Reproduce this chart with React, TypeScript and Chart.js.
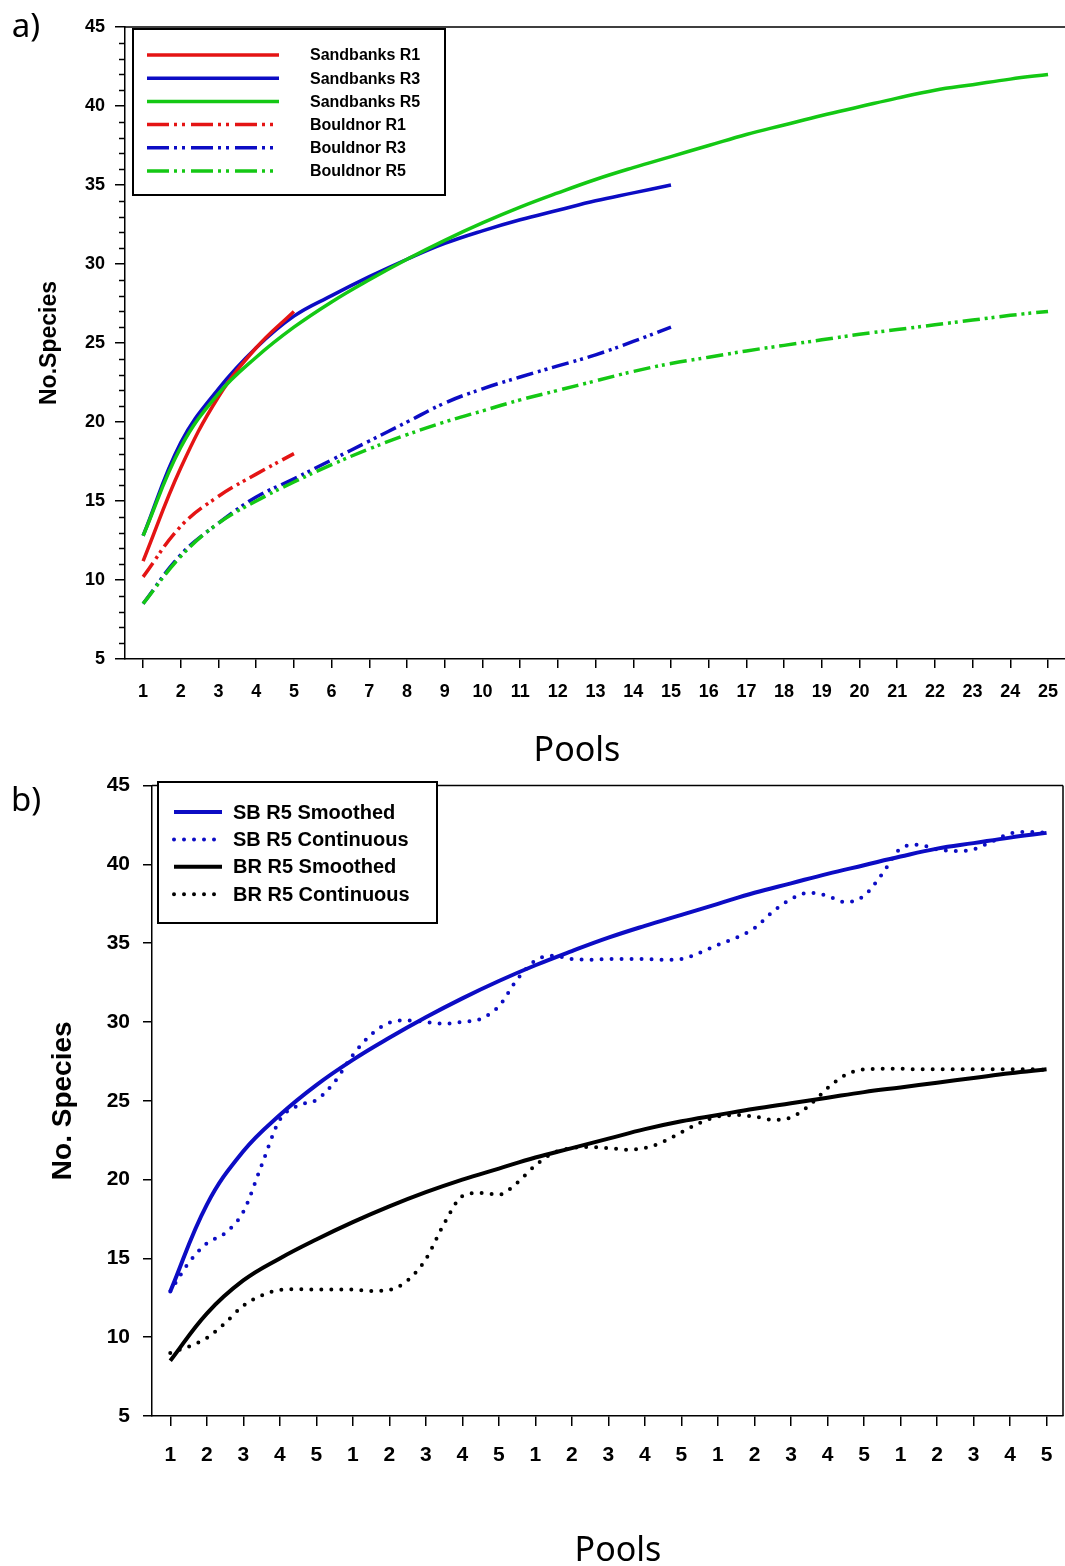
import { useEffect, useRef } from 'react';
import { Chart, registerables } from 'chart.js';

Chart.register(...registerables);

// ---------- Data: panel a ----------
const pools = [1, 2, 3, 4, 5, 6, 7, 8, 9, 10, 11, 12, 13, 14, 15, 16, 17, 18, 19, 20, 21, 22, 23, 24, 25];
const sandbanksR1 = [11.2, 17.1, 21.6, 24.7, 27.0];
const sandbanksR3 = [12.8, 18.7, 22.1, 24.7, 26.7, 28.0, 29.2, 30.3, 31.3, 32.1, 32.8, 33.4, 34.0, 34.5, 35.0];
const sandbanksR5 = [12.8, 18.4, 21.8, 24.1, 26.0, 27.6, 29.0, 30.3, 31.5, 32.6, 33.6, 34.5, 35.35, 36.1, 36.8, 37.5, 38.2, 38.8, 39.4, 39.95, 40.5, 41.0, 41.35, 41.7, 42.0];
const bouldnorR1 = [10.2, 13.4, 15.3, 16.7, 18.0];
const bouldnorR3 = [8.5, 11.6, 13.6, 15.25, 16.4, 17.6, 18.8, 20.0, 21.2, 22.1, 22.85, 23.55, 24.25, 25.1, 26.0];
const bouldnorR5 = [8.5, 11.5, 13.6, 15.0, 16.2, 17.3, 18.3, 19.2, 20.0, 20.7, 21.4, 22.0, 22.6, 23.2, 23.7, 24.1, 24.5, 24.85, 25.2, 25.55, 25.85, 26.15, 26.45, 26.75, 27.0];

// ---------- Data: panel b ----------
const bottomPoolLabels = ['1', '2', '3', '4', '5', '1', '2', '3', '4', '5', '1', '2', '3', '4', '5', '1', '2', '3', '4', '5', '1', '2', '3', '4', '5'];
const sbR5Smoothed = [12.9, 18.4, 21.8, 24.1, 26.0, 27.6, 29.0, 30.3, 31.5, 32.6, 33.6, 34.5, 35.35, 36.1, 36.8, 37.5, 38.2, 38.8, 39.4, 39.95, 40.5, 41.0, 41.35, 41.7, 42.0];
const brR5Smoothed = [8.5, 11.5, 13.6, 15.0, 16.2, 17.3, 18.3, 19.2, 20.0, 20.7, 21.4, 22.0, 22.6, 23.2, 23.7, 24.1, 24.5, 24.85, 25.2, 25.55, 25.85, 26.15, 26.45, 26.75, 27.0];
const continuousPools = [1, 1.5, 2, 2.5, 3, 3.5, 4, 4.5, 5, 5.5, 6, 6.5, 7, 7.5, 8, 8.5, 9, 9.5, 10, 10.5, 11, 11.5, 12, 12.5, 13, 13.5, 14, 14.5, 15, 15.5, 16, 16.5, 17, 17.5, 18, 18.5, 19, 19.5, 20, 20.5, 21, 21.5, 22, 22.5, 23, 23.5, 24, 24.5, 25];
const sbR5Continuous = [12.9, 14.7, 15.95, 16.6, 17.95, 20.9, 23.8, 24.7, 25.05, 26.2, 27.9, 29.2, 29.95, 30.1, 30.0, 29.9, 30.0, 30.2, 31.0, 32.7, 33.9, 34.2, 34.0, 33.95, 34.0, 34.0, 34.0, 33.95, 34.0, 34.4, 34.9, 35.35, 35.95, 37.0, 37.8, 38.2, 38.0, 37.6, 38.0, 39.4, 41.0, 41.25, 40.95, 40.85, 40.95, 41.45, 41.95, 42.06, 42.0];
const brR5Continuous = [9.0, 9.4, 9.95, 10.9, 12.0, 12.65, 13.0, 13.05, 13.03, 13.03, 13.02, 12.93, 13.0, 13.6, 14.95, 17.2, 18.95, 19.15, 19.05, 19.8, 20.9, 21.7, 22.0, 22.07, 22.0, 21.9, 22.0, 22.4, 23.0, 23.6, 24.0, 24.1, 24.0, 23.8, 23.95, 24.7, 25.8, 26.65, 27.0, 27.03, 27.03, 27.0, 27.0, 27.0, 27.0, 27.0, 27.0, 27.0, 26.97];

// ---------- Styles ----------
const RED = '#e41414';
const BLUE = '#0c0cc4';
const GREEN = '#14c814';
const BLACK = '#000000';
const ARIAL = '"Liberation Sans", Arial, Helvetica, sans-serif';
const DASH_PLOT = [17, 5, 3, 4, 3, 5];
const DASH_LEGEND = [22, 5, 3, 5, 3, 6];
const DOTS = [0, 10];

const toXY = (xs: number[], ys: number[]) => ys.map((y, i) => ({ x: xs[i], y }));

const framePlugin = {
  id: 'frame',
  afterDraw(chart: any, _args: any, opts: any) {
    const { ctx, chartArea: a } = chart;
    ctx.save();
    ctx.strokeStyle = '#000';
    ctx.lineWidth = opts.lineWidth || 1.5;
    ctx.beginPath();
    ctx.moveTo(a.left, a.top);
    ctx.lineTo(a.right, a.top);
    if (opts.right) {
      ctx.moveTo(a.right, a.top);
      ctx.lineTo(a.right, a.bottom);
    }
    if (opts.minorTick) {
      const ys = chart.scales.y;
      for (let v = ys.min; v <= ys.max; v += 1) {
        if (v % 5 === 0) continue;
        const py = Math.round(ys.getPixelForValue(v)) + 0.5;
        ctx.moveTo(a.left - opts.minorTick, py);
        ctx.lineTo(a.left, py);
      }
    }
    ctx.stroke();
    ctx.restore();
  },
};

const boxLegendPlugin = {
  id: 'boxLegend',
  afterDraw(chart: any, _args: any, o: any) {
    const { ctx } = chart;
    ctx.save();
    ctx.fillStyle = '#fff';
    ctx.fillRect(o.x1, o.y1, o.x2 - o.x1, o.y2 - o.y1);
    ctx.strokeStyle = '#000';
    ctx.lineWidth = o.borderWidth;
    ctx.strokeRect(o.x1, o.y1, o.x2 - o.x1, o.y2 - o.y1);
    chart.data.datasets.forEach((ds: any, i: number) => {
      const y = o.rowTop + i * o.rowStep;
      ctx.beginPath();
      ctx.setLineDash(ds.legendDash || ds.borderDash || []);
      ctx.lineCap = ds.borderCapStyle || 'butt';
      ctx.lineWidth = ds.borderWidth;
      ctx.strokeStyle = ds.borderColor;
      ctx.moveTo(o.lineX1, y);
      ctx.lineTo(o.lineX2, y);
      ctx.stroke();
      ctx.setLineDash([]);
      ctx.fillStyle = '#000';
      ctx.font = o.font;
      ctx.textBaseline = 'middle';
      ctx.textAlign = 'left';
      ctx.fillText(ds.label, o.textX, y + 1);
    });
    ctx.restore();
  },
};

function lineDs(label: string, xs: number[], ys: number[], color: string, width: number, dash: number[] | null, extra: any = {}) {
  return {
    label,
    data: toXY(xs, ys),
    borderColor: color,
    backgroundColor: color,
    borderWidth: width,
    borderDash: dash || [],
    pointRadius: 0,
    tension: 0.4,
    fill: false,
    ...extra,
  };
}

const noSidePadding = (s: any, h: number) => {
  s.height = h;
  s.paddingLeft = 0;
  s.paddingRight = 0;
};

function configA(): any {
  const H = 720;
  return {
    type: 'line',
    data: {
      datasets: [
        lineDs('Sandbanks R1', pools, sandbanksR1, RED, 3.5, null, { order: 2 }),
        lineDs('Sandbanks R3', pools, sandbanksR3, BLUE, 3.5, null, { order: 3 }),
        lineDs('Sandbanks R5', pools, sandbanksR5, GREEN, 3.5, null, { order: 1 }),
        lineDs('Bouldnor R1', pools, bouldnorR1, RED, 3.5, DASH_PLOT, { legendDash: DASH_LEGEND, order: 2 }),
        lineDs('Bouldnor R3', pools, bouldnorR3, BLUE, 3.5, DASH_PLOT, { legendDash: DASH_LEGEND, order: 3 }),
        lineDs('Bouldnor R5', pools, bouldnorR5, GREEN, 3.5, DASH_PLOT, { legendDash: DASH_LEGEND, order: 1 }),
      ],
    },
    options: {
      responsive: false,
      animation: false,
      layout: { padding: { top: 27, left: 0, right: 0, bottom: 0 } },
      plugins: {
        legend: { display: false },
        tooltip: { enabled: false },
        frame: { right: false, minorTick: 6, lineWidth: 1.5 },
        boxLegend: {
          x1: 133, y1: 29, x2: 445, y2: 195, borderWidth: 2,
          rowTop: 55, rowStep: 23.2, lineX1: 147, lineX2: 279, textX: 310,
          font: `bold 16px ${ARIAL}`,
        },
      },
      scales: {
        x: {
          type: 'linear',
          min: 0.52,
          max: 25.45,
          afterBuildTicks: (s: any) => { s.ticks = pools.map((v) => ({ value: v })); },
          afterFit: (s: any) => noSidePadding(s, H - 659),
          ticks: { color: '#000', font: { family: ARIAL, size: 18, weight: 'bold' }, padding: 13, maxRotation: 0, autoSkip: false, callback: (v: any) => String(v) },
          grid: { drawOnChartArea: false, drawTicks: true, tickLength: 9, color: '#000', lineWidth: 1.5 },
          border: { display: true, color: '#000', width: 1.5 },
        },
        y: {
          type: 'linear',
          min: 5,
          max: 45,
          afterFit: (s: any) => { s.width = 125; },
          ticks: { stepSize: 5, color: '#000', font: { family: ARIAL, size: 18, weight: 'bold' }, padding: 10 },
          grid: { drawOnChartArea: false, drawTicks: true, tickLength: 10, color: '#000', lineWidth: 1.5 },
          border: { display: true, color: '#000', width: 1.5 },
          title: { display: true, text: 'No.Species', color: '#000', font: { family: ARIAL, size: 23, weight: 'bold', lineHeight: 1 }, padding: { top: 38, bottom: 0 } },
        },
      },
    },
    plugins: [framePlugin, boxLegendPlugin],
  };
}

function configB(): any {
  const H = 806;
  const TOP = 760;
  return {
    type: 'line',
    data: {
      datasets: [
        lineDs('SB R5 Smoothed', pools, sbR5Smoothed, BLUE, 4, null, { order: 2 }),
        lineDs('SB R5 Continuous', continuousPools, sbR5Continuous, BLUE, 4, DOTS, { borderCapStyle: 'round', order: 1, tension: 0, cubicInterpolationMode: 'monotone' }),
        lineDs('BR R5 Smoothed', pools, brR5Smoothed, BLACK, 4, null, { order: 2 }),
        lineDs('BR R5 Continuous', continuousPools, brR5Continuous, BLACK, 4, DOTS, { borderCapStyle: 'round', order: 1, tension: 0, cubicInterpolationMode: 'monotone' }),
      ],
    },
    options: {
      responsive: false,
      animation: false,
      layout: { padding: { top: 777 - TOP, left: 0, right: 2, bottom: 0 } },
      plugins: {
        legend: { display: false },
        tooltip: { enabled: false },
        frame: { right: true, minorTick: 0, lineWidth: 1.5 },
        boxLegend: {
          x1: 158, y1: 782 - TOP, x2: 437, y2: 923 - TOP, borderWidth: 2,
          rowTop: 812 - TOP, rowStep: 27.4, lineX1: 174, lineX2: 222, textX: 233,
          font: `bold 20px ${ARIAL}`,
        },
      },
      scales: {
        x: {
          type: 'linear',
          min: 0.5,
          max: 25.45,
          afterBuildTicks: (s: any) => { s.ticks = pools.map((v) => ({ value: v })); },
          afterFit: (s: any) => noSidePadding(s, H - (1416 - TOP)),
          ticks: {
            color: '#000', font: { family: ARIAL, size: 21, weight: 'bold' }, padding: 17, maxRotation: 0, autoSkip: false,
            callback: (_v: any, i: number) => bottomPoolLabels[i],
          },
          grid: { drawOnChartArea: false, drawTicks: true, tickLength: 10, color: '#000', lineWidth: 1.5 },
          border: { display: true, color: '#000', width: 1.5 },
        },
        y: {
          type: 'linear',
          min: 5,
          max: 45,
          afterFit: (s: any) => { s.width = 152; },
          ticks: { stepSize: 5, color: '#000', font: { family: ARIAL, size: 21, weight: 'bold' }, padding: 13 },
          grid: { drawOnChartArea: false, drawTicks: true, tickLength: 9, color: '#000', lineWidth: 1.5 },
          border: { display: true, color: '#000', width: 1.5 },
          title: { display: true, text: 'No. Species', color: '#000', font: { family: ARIAL, size: 28, weight: 'bold', lineHeight: 1 }, padding: { top: 49, bottom: 0 } },
        },
      },
    },
    plugins: [framePlugin, boxLegendPlugin],
  };
}

const textStyle = (cx: number, cy: number, size: number): any => ({
  position: 'absolute',
  left: cx,
  top: cy,
  transform: 'translate(-50%, -50%)',
  fontSize: size,
  lineHeight: 1,
  whiteSpace: 'nowrap',
  color: '#000',
  fontFamily: '"Noto Sans", "Open Sans", sans-serif',
});

export default function App() {
  const refA = useRef<HTMLCanvasElement>(null);
  const refB = useRef<HTMLCanvasElement>(null);

  useEffect(() => {
    document.body.style.margin = '0';
    const a = new Chart(refA.current as HTMLCanvasElement, configA());
    const b = new Chart(refB.current as HTMLCanvasElement, configB());
    return () => {
      a.destroy();
      b.destroy();
    };
  }, []);

  return (
    <div style={{ position: 'relative', width: 1065, height: 1566, background: '#fff', overflow: 'hidden' }}>
      <canvas ref={refA} width={1065} height={720} style={{ position: 'absolute', left: 0, top: 0, width: 1065, height: 720 }} />
      <canvas ref={refB} width={1065} height={806} style={{ position: 'absolute', left: 0, top: 760, width: 1065, height: 806 }} />
      <div style={textStyle(26, 24, 33)}>a)</div>
      <div style={textStyle(26, 798, 33)}>b)</div>
      <div style={textStyle(577, 748, 34)}>Pools</div>
      <div style={textStyle(618, 1548, 34)}>Pools</div>
    </div>
  );
}
